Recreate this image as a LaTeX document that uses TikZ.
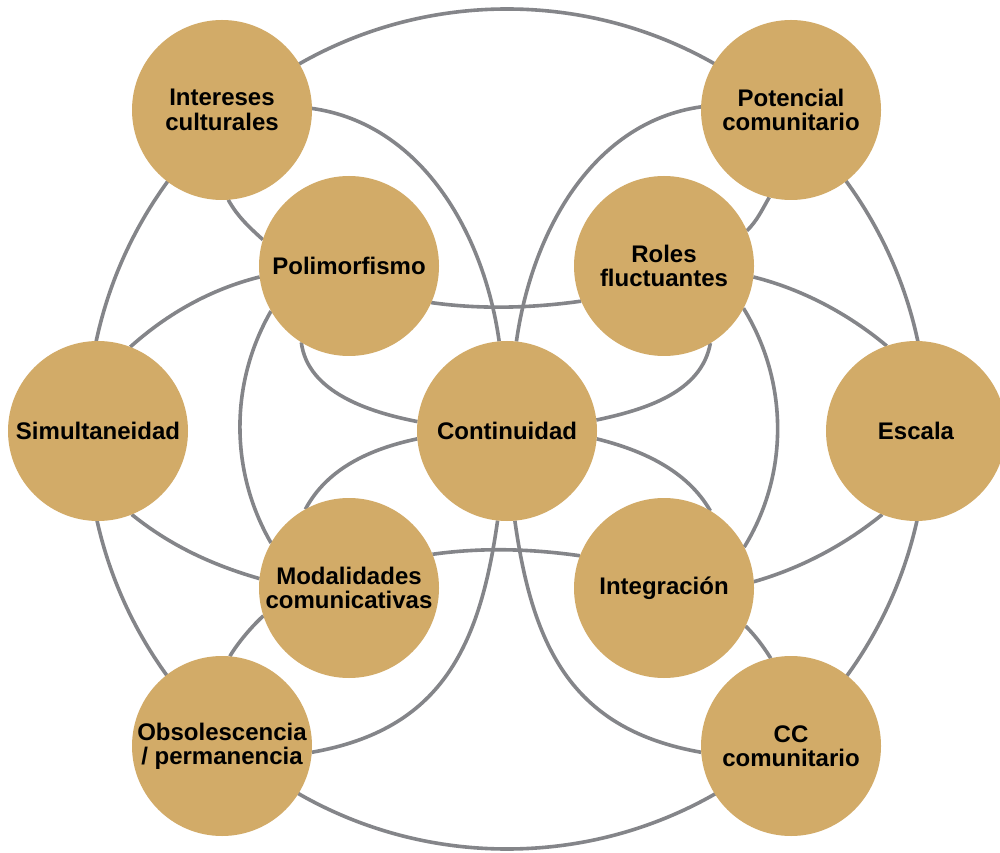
\documentclass[tikz,border=0pt]{standalone}
\usepackage{fontspec}
\setmainfont{Liberation Sans}
\usetikzlibrary{backgrounds}
\definecolor{gold}{RGB}{210,171,104}
\definecolor{linegray}{RGB}{132,133,137}
\begin{document}
\begin{tikzpicture}[x=1pt,y=1pt,
  topic/.style={circle, fill=gold, draw=none, minimum size=180pt, inner sep=0pt, outer sep=0pt,
    align=center, text=black, font=\bfseries\fontsize{24}{24.4}\selectfont},
  link/.style={draw=linegray, line width=3.6pt}]
\useasboundingbox (0,0) rectangle (1000,852);
\node[topic] (I)  at (222,742) {Intereses\\culturales};
\node[topic] (P)  at (791,742) {Potencial\\comunitario};
\node[topic] (Pm) at (349,586) {Polimorfismo};
\node[topic] (R)  at (664,586) {Roles\\fluctuantes};
\node[topic] (S)  at (98,421)  {Simultaneidad};
\node[topic] (C)  at (507,421) {Continuidad};
\node[topic] (E)  at (916,421) {Escala};
\node[topic] (M)  at (349,264) {Modalidades\\comunicativas};
\node[topic] (In) at (664,264) {Integración};
\node[topic] (O)  at (222,106) {Obsolescencia\\/ permanencia};
\node[topic] (CC) at (791,106) {CC\\comunitario};
\begin{scope}[on background layer]
  \fill[white] (0,0) rectangle (1000,852);
  \coordinate (ring) at (507,423);
  \draw[link] (ring) circle[radius=420];
  % long arcs to Continuidad
  \draw[link] (I.1.5) .. controls +(-8:110) and +(98:110) .. (C.95.6);
  \draw[link] (P.178.5) .. controls +(188:110) and +(82:110) .. (C.84.4);
  \draw[link] (O.-4) .. controls +(10:130) and +(262:130) .. (C.264.4);
  \draw[link] (CC.184) .. controls +(170:130) and +(278:130) .. (C.275.6);
  % short links corner to inner
  \draw[link] (I.-86) .. controls +(-62:18) and +(138:18) .. (Pm.163.6);
  \draw[link] (R.23.5) .. controls +(45:15) and +(240:15) .. (P.256.6);
  \draw[link] (M.198.5) .. controls +(222:15) and +(60:15) .. (O.85.4);
  \draw[link] (In.-25.9) .. controls +(-45:14) and +(122:14) .. (CC.103.5);
  % inner to Continuidad
  \draw[link] (Pm.238.9) .. controls +(-83:50) and +(169:50) .. (C.174);
  \draw[link] (R.-59.2) .. controls +(260:50) and +(12:50) .. (C.7);
  \draw[link] (C.185.3) .. controls +(192:47) and +(62:47) .. (M.119.4);
  \draw[link] (C.-5.7) .. controls +(-14:47) and +(120:47) .. (In.59.5);
  % side nodes to inner
  \draw[link] (S.69.9) .. controls +(42:50) and +(194:50) .. (Pm.187.9);
  \draw[link] (S.-68.7) .. controls +(-39:49) and +(164:49) .. (M.174.9);
  \draw[link] (R.-7.2) .. controls +(-14:50) and +(140:50) .. (E.109.6);
  \draw[link] (In.4) .. controls +(16:49) and +(219:49) .. (E.248.7);
  % inner ring
  \draw[link] (Pm.-24.7) .. controls +(-8:50) and +(188:50) .. (R.203);
  \draw[link] (M.22.8) .. controls +(8:50) and +(172:50) .. (In.159.1);
  \draw[link] (Pm.210.6) .. controls +(240:83) and +(120:83) .. (M.150);
  \draw[link] (R.-28) .. controls +(-58.4:86) and +(58.4:86) .. (In.27);
\end{scope}
\end{tikzpicture}
\end{document}
